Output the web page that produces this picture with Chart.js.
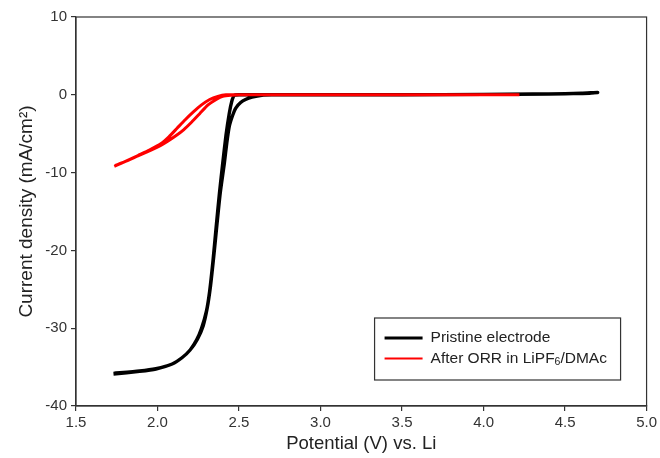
<!DOCTYPE html>
<html>
<head>
<meta charset="utf-8">
<script src="https://cdn.jsdelivr.net/npm/chart.js@4/dist/chart.umd.min.js"></script>
<style>
  html, body { margin: 0; padding: 0; background: #fff; }
  #wrap { width: 660px; height: 458px; }
</style>
</head>
<body>
<div id="wrap"><canvas id="lsvChart" width="660" height="458"></canvas></div>
<script>
// Pristine electrode: forward sweep up, then back down (closed loop)
const pristineV = [1.73, 1.89, 1.99, 2.09, 2.15, 2.20, 2.24, 2.27, 2.30, 2.32, 2.34, 2.36, 2.38, 2.40, 2.42, 2.44, 2.455, 2.47, 2.50, 2.70, 3.00, 3.50, 4.00, 4.30, 4.50, 4.65, 4.70,
                   4.60, 4.40, 4.00, 3.50, 3.00, 2.70, 2.64, 2.58, 2.54, 2.51, 2.48, 2.46, 2.44, 2.425, 2.41, 2.385, 2.365, 2.345, 2.325, 2.305, 2.28, 2.245, 2.20, 2.15, 2.09, 1.99, 1.89, 1.73];
const pristineI = [-35.8, -35.5, -35.2, -34.6, -33.8, -32.8, -31.5, -30.0, -27.8, -25.2, -21.4, -16.9, -12.6, -8.8, -5.2, -2.4, -0.9, -0.1, 0, 0, 0, 0, 0.05, 0.1, 0.15, 0.2, 0.3,
                   0.2, 0.1, 0.05, 0, 0, 0, -0.05, -0.3, -0.6, -1.0, -1.7, -2.7, -4.1, -6.2, -8.8, -12.6, -16.6, -20.8, -24.6, -27.4, -29.7, -31.4, -32.8, -33.8, -34.6, -35.25, -35.55, -35.9];

// After ORR in LiPF6/DMAc
const orrV = [1.735, 1.80, 1.88, 1.95, 2.02, 2.07, 2.12, 2.17, 2.22, 2.27, 2.32, 2.37, 2.42, 2.50, 3.00, 3.50, 4.22,
              3.50, 3.00, 2.50, 2.45, 2.40, 2.36, 2.31, 2.26, 2.21, 2.16, 2.11, 2.06, 2.02, 1.95, 1.88, 1.80, 1.74];
const orrI = [-9.2, -8.6, -7.8, -7.1, -6.3, -5.4, -4.3, -3.2, -2.2, -1.3, -0.6, -0.2, 0, 0, 0, 0, 0.02,
              0, 0, 0, -0.05, -0.2, -0.6, -1.3, -2.4, -3.5, -4.5, -5.3, -6.0, -6.5, -7.2, -7.85, -8.6, -9.1];

const xTicks = [1.5, 2.0, 2.5, 3.0, 3.5, 4.0, 4.5, 5.0];
const yTicks = [-40, -30, -20, -10, 0, 10];

function toPoints(xs, ys) {
  return xs.map((x, i) => ({ x: x, y: ys[i] }));
}

const axisColor = '#333';
const fontFamily = "'Liberation Sans', Arial, sans-serif";

// Frame around the plot area (top and right sides included)
const framePlugin = {
  id: 'frame',
  afterDraw(chart) {
    const a = chart.chartArea;
    const ctx = chart.ctx;
    ctx.save();
    ctx.strokeStyle = axisColor;
    ctx.lineWidth = 1.2;
    ctx.strokeRect(a.left, a.top, a.right - a.left, a.bottom - a.top);
    ctx.restore();
  }
};

// Boxed legend inside the plot, lower right; "_6" in a label is drawn as a subscript
const boxLegendPlugin = {
  id: 'boxLegend',
  afterDraw(chart) {
    const a = chart.chartArea;
    const ctx = chart.ctx;
    const w = 246, h = 62;
    const x0 = a.right - 26 - w;
    const y0 = a.bottom - 26 - h;
    ctx.save();
    ctx.fillStyle = '#fff';
    ctx.fillRect(x0, y0, w, h);
    ctx.strokeStyle = axisColor;
    ctx.lineWidth = 1.2;
    ctx.strokeRect(x0, y0, w, h);
    const items = chart.data.datasets.slice().sort((p, q) => q.order - p.order);
    items.forEach((ds, i) => {
      const y = y0 + 20 + i * 20.5;
      ctx.strokeStyle = ds.borderColor;
      ctx.lineWidth = ds.legendWidth;
      ctx.beginPath();
      ctx.moveTo(x0 + 10, y);
      ctx.lineTo(x0 + 48, y);
      ctx.stroke();
      ctx.fillStyle = '#222';
      ctx.textBaseline = 'middle';
      let tx = x0 + 56;
      ds.label.split(/(_\d)/).forEach(part => {
        if (part.startsWith('_')) {
          ctx.font = '10.5px ' + fontFamily;
          ctx.fillText(part.slice(1), tx, y + 4);
          tx += ctx.measureText(part.slice(1)).width;
        } else {
          ctx.font = '15.5px ' + fontFamily;
          ctx.fillText(part, tx, y);
          tx += ctx.measureText(part).width;
        }
      });
    });
    ctx.restore();
  }
};

const ctx = document.getElementById('lsvChart').getContext('2d');
new Chart(ctx, {
  type: 'scatter',
  data: {
    datasets: [
      {
        label: 'Pristine electrode',
        data: toPoints(pristineV, pristineI),
        showLine: true,
        borderColor: '#000',
        borderWidth: 3.4,
        legendWidth: 3,
        pointRadius: 0,
        tension: 0.2,
        order: 1
      },
      {
        label: 'After ORR in LiPF_6/DMAc',
        data: toPoints(orrV, orrI),
        showLine: true,
        borderColor: '#f00',
        borderWidth: 3,
        legendWidth: 2.2,
        pointRadius: 0,
        tension: 0.2,
        order: 0
      }
    ]
  },
  options: {
    responsive: false,
    animation: false,
    layout: { padding: { top: 17, right: 5, left: 0, bottom: 0 } },
    plugins: {
      legend: { display: false },
      tooltip: { enabled: false }
    },
    scales: {
      x: {
        type: 'linear',
        min: xTicks[0],
        max: xTicks[xTicks.length - 1],
        afterBuildTicks: scale => { scale.ticks = xTicks.map(v => ({ value: v })); },
        afterFit: scale => { scale.height = 52; },
        ticks: {
          color: axisColor,
          font: { family: fontFamily, size: 15 },
          padding: 3,
          maxRotation: 0,
          callback: v => v.toFixed(1)
        },
        grid: { display: true, drawOnChartArea: false, drawTicks: true, tickLength: 5, color: axisColor, lineWidth: 1.2 },
        border: { display: true, color: axisColor, width: 1.2 },
        title: {
          display: true,
          text: 'Potential (V) vs. Li',
          color: '#222',
          font: { family: fontFamily, size: 18.5 },
          padding: { top: 0, bottom: 3 }
        }
      },
      y: {
        type: 'linear',
        min: yTicks[0],
        max: yTicks[yTicks.length - 1],
        afterBuildTicks: scale => { scale.ticks = yTicks.map(v => ({ value: v })); },
        afterFit: scale => { scale.width = 76; },
        ticks: {
          color: axisColor,
          font: { family: fontFamily, size: 15 },
          padding: 4
        },
        grid: { display: true, drawOnChartArea: false, drawTicks: true, tickLength: 5, color: axisColor, lineWidth: 1.2 },
        border: { display: true, color: axisColor, width: 1.2 },
        title: {
          display: true,
          text: 'Current density (mA/cm²)',
          color: '#222',
          font: { family: fontFamily, size: 19 },
          padding: { top: 15, bottom: 0 }
        }
      }
    }
  },
  plugins: [framePlugin, boxLegendPlugin]
});
</script>
</body>
</html>
